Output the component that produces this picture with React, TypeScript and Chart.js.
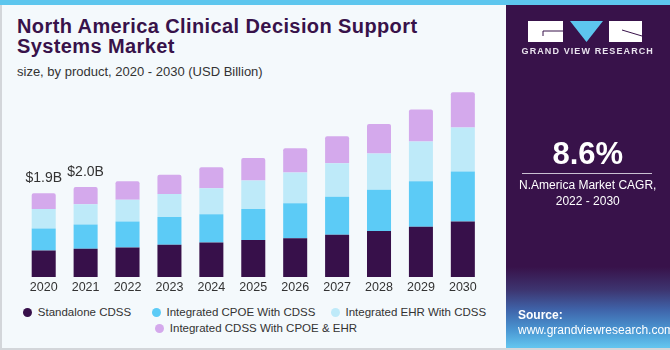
import React, { useEffect, useRef } from "react";
import { Chart, registerables } from "chart.js";

Chart.register(...registerables);

const years = ["2020", "2021", "2022", "2023", "2024", "2025", "2026", "2027", "2028", "2029", "2030"];
const standaloneCdss = [0.6, 0.64, 0.67, 0.73, 0.78, 0.84, 0.88, 0.96, 1.04, 1.14, 1.26];
const integratedCpoe = [0.5, 0.55, 0.59, 0.63, 0.64, 0.7, 0.79, 0.86, 0.94, 1.03, 1.13];
const integratedEhr = [0.44, 0.46, 0.49, 0.52, 0.59, 0.65, 0.7, 0.76, 0.82, 0.9, 1.0];
const integratedBoth = [0.36, 0.39, 0.42, 0.44, 0.48, 0.51, 0.55, 0.61, 0.67, 0.73, 0.8];
const totalLabels = ["$1.9B", "$2.0B", "", "", "", "", "", "", "", "", ""];
const seriesNames = [
  "Standalone CDSS",
  "Integrated CPOE With CDSS",
  "Integrated EHR With CDSS",
  "Integrated CDSS With CPOE & EHR",
];
const seriesColors = ["#37104A", "#5CCBF6", "#BEEAF9", "#D4A9EC"];

const FONT = "'Liberation Sans', Arial, sans-serif";

const totalsPlugin = {
  id: "totals",
  afterDatasetsDraw(chart: any) {
    const ctx = chart.ctx;
    const last = chart.getDatasetMeta(chart.data.datasets.length - 1);
    ctx.save();
    ctx.font = `14px ${FONT}`;
    ctx.fillStyle = "#333333";
    ctx.textAlign = "center";
    ctx.textBaseline = "bottom";
    totalLabels.forEach((t, i) => {
      if (!t) return;
      const el = last.data[i];
      ctx.fillText(t, el.x, el.y - 8);
    });
    ctx.restore();
  },
};

function BarChart() {
  const ref = useRef<HTMLCanvasElement>(null);
  useEffect(() => {
    if (!ref.current) return;
    const data = [standaloneCdss, integratedCpoe, integratedEhr, integratedBoth];
    const chart = new Chart(ref.current, {
      type: "bar",
      data: {
        labels: years,
        datasets: data.map((d, i) => ({
          label: seriesNames[i],
          data: d,
          backgroundColor: seriesColors[i],
          borderWidth: 0,
          barPercentage: 0.573,
          categoryPercentage: 1,
          borderRadius: i === 3 ? { topLeft: 2, topRight: 2, bottomLeft: 0, bottomRight: 0 } : 0,
          borderSkipped: false,
        })),
      },
      options: {
        animation: false,
        responsive: false,
        maintainAspectRatio: false,
        layout: { padding: { left: 22.75, right: 16.2, top: 18.5, bottom: 0 } },
        plugins: { legend: { display: false }, tooltip: { enabled: false } },
        scales: {
          x: {
            stacked: true,
            grid: { display: false, drawTicks: false },
            border: { display: false },
            ticks: { color: "#333333", font: { family: FONT, size: 12.5 }, padding: 3 },
          },
          y: {
            stacked: true,
            display: false,
            min: 0,
            max: 4.5,
          },
        },
      },
      plugins: [totalsPlugin],
    });
    return () => chart.destroy();
  }, []);
  return (
    <canvas
      ref={ref}
      width={500}
      height={238}
      style={{ position: "absolute", left: 0, top: 60, width: 500, height: 238 }}
    />
  );
}

export default function App() {
  const legendPos = [
    { left: 22.8, top: 307.8 },
    { left: 151.5, top: 307.8 },
    { left: 330.5, top: 307.8 },
    { left: 154.8, top: 323.8 },
  ];
  return (
    <div
      style={{
        position: "fixed",
        left: 0,
        top: 0,
        width: 670,
        height: 350,
        background: "#F4F9FC",
        overflow: "hidden",
        fontFamily: FONT,
      }}
    >
      <div style={{ position: "absolute", left: 0, top: 0, width: 670, height: 5, background: "#5DC6EE" }} />
      <div style={{ position: "absolute", left: 0, top: 5, width: 1.5, height: 345, background: "#D3D6DA" }} />
      <div style={{ position: "absolute", left: 0, top: 347.5, width: 670, height: 2.5, background: "#D3D6DA" }} />

      <div
        style={{
          position: "absolute",
          left: 17,
          top: 16,
          width: 480,
          fontSize: 20,
          lineHeight: "20px",
          fontWeight: 900,
          color: "#38124A",
          letterSpacing: 0.4,
        }}
      >
        North America Clinical Decision Support
        <br />
        Systems Market
      </div>
      <div style={{ position: "absolute", left: 17, top: 64, fontSize: 13, color: "#333333" }}>
        size, by product, 2020 - 2030 (USD Billion)
      </div>

      <BarChart />

      {seriesNames.map((n, i) => (
        <div
          key={n}
          style={{
            position: "absolute",
            left: legendPos[i].left,
            top: legendPos[i].top,
            height: 9,
            display: "flex",
            alignItems: "center",
            whiteSpace: "nowrap",
          }}
        >
          <span
            style={{
              display: "inline-block",
              width: 9,
              height: 9,
              borderRadius: "50%",
              background: seriesColors[i],
              marginRight: 6,
            }}
          />
          <span style={{ fontSize: 11.5, color: "#333333", lineHeight: "9px" }}>{n}</span>
        </div>
      ))}

      <div
        style={{
          position: "absolute",
          left: 505.5,
          top: 5,
          width: 164.5,
          height: 342.5,
          background:
            "linear-gradient(to bottom, #38124A 0px, #38124A 262px, #3D3570 285px, #3F64AA 305px, #4A96D2 325px, #62C4EE 342px)",
        }}
      />
      <svg style={{ position: "absolute", left: 0, top: 0 }} width={670} height={350}>
        <rect x={528} y={21} width={35} height={21} fill="#FFFFFF" />
        <line x1={543} y1={31} x2={563} y2={31} stroke="#38124A" strokeWidth={1} />
        <line x1={543} y1={31} x2={543} y2={36} stroke="#38124A" strokeWidth={1} />
        <polygon points="570,21 603,21 586.5,42" fill="#5DC6EE" />
        <rect x={609} y={21} width={33} height={21} fill="#FFFFFF" />
        <line x1={622} y1={30} x2={642} y2={36} stroke="#38124A" strokeWidth={1} />
      </svg>
      <div
        style={{
          position: "absolute",
          left: 505.5,
          width: 164.5,
          top: 46,
          textAlign: "center",
          fontSize: 9,
          fontWeight: 700,
          letterSpacing: 1.1,
          color: "#E9E3EE",
        }}
      >
        GRAND VIEW RESEARCH
      </div>
      <div
        style={{
          position: "absolute",
          left: 505.5,
          width: 164.5,
          top: 136,
          textAlign: "center",
          fontSize: 31,
          fontWeight: 700,
          color: "#FFFFFF",
        }}
      >
        8.6%
      </div>
      <div style={{ position: "absolute", left: 522, top: 173, width: 130, height: 1, background: "#C9C0D2" }} />
      <div
        style={{
          position: "absolute",
          left: 505.5,
          width: 164.5,
          top: 177,
          textAlign: "center",
          fontSize: 12,
          lineHeight: "16px",
          color: "#FFFFFF",
        }}
      >
        N.America Market CAGR,
        <br />
        2022 - 2030
      </div>
      <div
        style={{
          position: "absolute",
          left: 518,
          top: 308,
          fontSize: 12,
          lineHeight: "15px",
          color: "#FFFFFF",
        }}
      >
        <div style={{ fontWeight: 700 }}>Source:</div>
        <div>www.grandviewresearch.com</div>
      </div>
    </div>
  );
}
